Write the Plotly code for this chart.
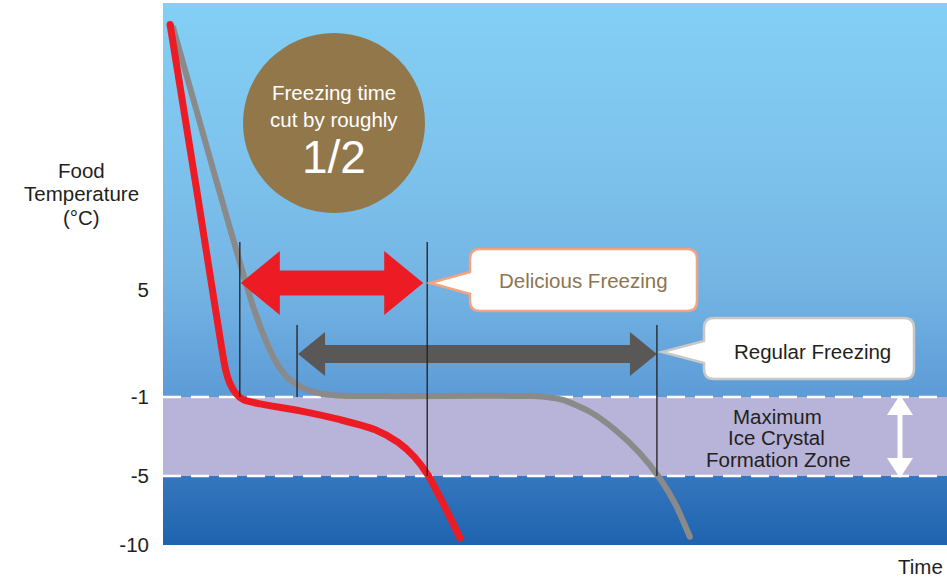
import numpy as np
import plotly.graph_objects as go

# ---------------------------------------------------------------- data
tick_temps = [5, -1, -5, -10]
tick_labels = ["5", "-1", "-5", "-10"]

zone_top = -1      # upper edge of the maximum ice crystal formation zone (°C)
zone_bottom = -5   # lower edge (°C)

# rapid ("delicious") freezing curve: time (arbitrary units) vs food temperature (°C)
red_time = [0.9, 4.3, 7.1, 8.0, 8.6, 9.3, 10.3, 12.4, 17.5, 22.6, 27.0, 30.0, 32.1, 33.8, 35.7, 37.9]
red_temp = [19.9, 10.6, 2.8, 0.5, -0.3, -0.8, -1.15, -1.35, -1.7, -2.15, -2.65, -3.3, -4.05, -4.95, -6.95, -9.5]

# regular freezing curve
gray_time = [1.3, 6.5, 11.4, 12.8, 14.5, 16.2, 18.4, 21.7, 28.1, 47.2, 49.2, 51.0, 54.5, 57.7, 60.8, 63.4, 65.4, 67.2]
gray_temp = [19.7, 11.6, 4.2, 2.5, 0.9, -0.05, -0.6, -0.9, -0.95, -0.95, -1.02, -1.15, -1.76, -2.67, -3.84, -5.2, -7.1, -9.4]

# time spent passing through the zone for each method
fast_span = [9.8, 33.7]
regular_span = [17.1, 63.0]
fast_label = "Delicious Freezing"
regular_label = "Regular Freezing"

# ---------------------------------------------------------------- layout geometry
W, H = 947, 581
ML, MR, MT, MB = 163, 0, 3, 36
PW, PH = W - ML - MR, H - MT - MB          # 784 x 542
X_MAX = 100.0
Y_MAX = float(PH)
XPX = PW / X_MAX                             # pixels per time unit

# schematic (piecewise) temperature scale
TEMP_KNOTS = [-10, -5, -1, 5, 21.1]
AXIS_KNOTS = [0, 69, 148, 255, 542]


def ay(temp):
    return np.interp(temp, TEMP_KNOTS, AXIS_KNOTS)


def dx(px):
    return px / XPX


def px2x(px):
    return (px - ML) / XPX


def py2y(py):
    return (MT + PH) - py


def paper_x(px):
    return (px - ML) / PW


def paper_y(py):
    return (MT + PH - py) / PH


FONT = "Liberation Sans, Arial, Helvetica, sans-serif"
INK = "#231F20"
RED = "#ED1C24"
GRAY = "#8A8A8A"
DARK = "#5A5856"
BROWN = "#91774A"

fig = go.Figure()

# background gradient
gy = np.linspace(0, Y_MAX, 120)
stops = [(0, "#1F63AF"), (69, "#3577BE"), (148, "#5C9BD6"), (265, "#75B5E4"),
         (400, "#7EC4EE"), (542, "#83CFF5")]
fig.add_trace(go.Heatmap(
    x=[0, X_MAX], y=gy, z=[[v, v] for v in gy],
    colorscale=[[s / Y_MAX, c] for s, c in stops], zmin=0, zmax=Y_MAX,
    zsmooth="best", showscale=False, hoverinfo="skip"))

# ice crystal formation zone
yt, yb = float(ay(zone_top)), float(ay(zone_bottom))
fig.add_trace(go.Scatter(
    x=[0, X_MAX, X_MAX, 0, 0], y=[yt, yt, yb, yb, yt], fill="toself",
    fillcolor="#B8B3D9", line=dict(width=0), mode="lines", hoverinfo="skip"))
for yy in (yt, yb):
    fig.add_trace(go.Scatter(
        x=[0, X_MAX], y=[yy, yy], mode="lines", hoverinfo="skip",
        line=dict(color="white", width=2.5, dash="18px,10px")))

# freezing curves
for t, v, col, w in ((gray_time, gray_temp, GRAY, 6), (red_time, red_temp, RED, 7)):
    yy = ay(v)
    fig.add_trace(go.Scatter(
        x=t, y=yy, mode="lines", hoverinfo="skip",
        line=dict(color=col, width=w, shape="spline", smoothing=0.7)))
    fig.add_trace(go.Scatter(
        x=[t[0], t[-1]], y=[yy[0], yy[-1]], mode="markers", hoverinfo="skip",
        marker=dict(color=col, size=w, line=dict(width=0))))


def h_arrow(x0, x1, yc, head, half, shaft):
    hl = dx(head)
    xs = [x0, x0 + hl, x0 + hl, x1 - hl, x1 - hl, x1, x1 - hl, x1 - hl, x0 + hl, x0 + hl, x0]
    ys = [yc, yc + half, yc + shaft, yc + shaft, yc + half, yc, yc - half, yc - shaft,
          yc - shaft, yc - half, yc]
    return xs, ys


def v_arrow(xc, y0, y1, head, half, shaft):
    hw, sw = dx(half), dx(shaft)
    xs = [xc, xc + hw, xc + sw, xc + sw, xc + hw, xc, xc - hw, xc - sw, xc - sw, xc - hw, xc]
    ys = [y1, y1 - head, y1 - head, y0 + head, y0 + head, y0, y0 + head, y0 + head,
          y1 - head, y1 - head, y1]
    return xs, ys


# span arrows
fast_y = py2y(283)
reg_y = py2y(354)
xs, ys = h_arrow(fast_span[0] + dx(1), fast_span[1] - dx(4), fast_y, 39, 32, 12.5)
fig.add_trace(go.Scatter(x=xs, y=ys, fill="toself", fillcolor=RED, mode="lines",
                         line=dict(width=0), hoverinfo="skip"))
xs, ys = h_arrow(regular_span[0] + dx(1), regular_span[1], reg_y, 27, 22, 9)
fig.add_trace(go.Scatter(x=xs, y=ys, fill="toself", fillcolor=DARK, mode="lines",
                         line=dict(width=0), hoverinfo="skip"))
xs, ys = v_arrow(px2x(900), yb - 2, yt + 2, 20, 13, 2.5)
fig.add_trace(go.Scatter(x=xs, y=ys, fill="toself", fillcolor="white", mode="lines",
                         line=dict(width=0), hoverinfo="skip"))

shapes = []
# guide lines where each curve enters and leaves the zone
for (a, b), top in ((fast_span, py2y(242)), (regular_span, py2y(325))):
    shapes.append(dict(type="line", x0=a, x1=a, y0=top, y1=yt, layer="above",
                       line=dict(color=INK, width=1.3)))
    shapes.append(dict(type="line", x0=b, x1=b, y0=top, y1=yb, layer="above",
                       line=dict(color=INK, width=1.3)))

# badge
shapes.append(dict(type="circle", x0=px2x(243), x1=px2x(425), y0=py2y(213), y1=py2y(33),
                   fillcolor=BROWN, line=dict(width=0), layer="above"))


def callout(L, T, R, B, tip, tb, r=10):
    def p(x, y):
        return f"{px2x(x):.4f},{py2y(y):.4f}"
    tx, ty = tip
    return ("M" + p(L + r, T) + " L" + p(R - r, T) + " Q" + p(R, T) + " " + p(R, T + r)
            + " L" + p(R, B - r) + " Q" + p(R, B) + " " + p(R - r, B)
            + " L" + p(L + r, B) + " Q" + p(L, B) + " " + p(L, B - r)
            + " L" + p(L, ty + tb) + " L" + p(tx, ty) + " L" + p(L, ty - tb)
            + " L" + p(L, T + r) + " Q" + p(L, T) + " " + p(L + r, T) + " Z")


shapes.append(dict(type="path", path=callout(470, 249, 697, 311, (430, 283), 11),
                   fillcolor="white", line=dict(color="#F4A27F", width=2.5), layer="above"))
shapes.append(dict(type="path", path=callout(704, 318, 914, 379, (662, 352), 11),
                   fillcolor="white", line=dict(color="#C8C8C8", width=2.5), layer="above"))

ann = []


def text(s, px, py, size=20.5, color=INK, anchor="center"):
    ann.append(dict(text=s, x=paper_x(px), y=paper_y(py), xref="paper", yref="paper",
                    xanchor=anchor, yanchor="middle", showarrow=False,
                    font=dict(family=FONT, size=size, color=color)))


text("Freezing time", 334, 93, 20.5, "white")
text("cut by roughly", 334, 119, 20.5, "white")
text("1/2", 334, 157, 46, "white")
text(fast_label, 583, 281, 20.5, "#8C7550")
text(regular_label, 812, 351, 20.5, INK)
text("Maximum", 777, 416, 20.5)
text("Ice Crystal", 776, 437, 20.5)
text("Formation Zone", 778, 459, 20.5)
text("Food", 81, 170, 20.5)
text("Temperature", 81, 193, 20.5)
text("(°C)", 81, 217, 20.5)
text("Time", 945, 567, 20.5, anchor="right")

fig.update_layout(
    width=W, height=H, margin=dict(l=ML, r=MR, t=MT, b=MB, pad=0),
    paper_bgcolor="white", plot_bgcolor="white", showlegend=False,
    shapes=shapes, annotations=ann,
    xaxis=dict(range=[0, X_MAX], showgrid=False, zeroline=False, showticklabels=False,
               ticks="", showline=False, fixedrange=True),
    yaxis=dict(range=[0, Y_MAX], showgrid=False, zeroline=False, showline=False,
               tickvals=[float(ay(t)) for t in tick_temps], ticktext=tick_labels,
               ticks="", ticklabelstandoff=13,
               tickfont=dict(family=FONT, size=20.5, color=INK), fixedrange=True),
)

fig.write_html("out.html")
